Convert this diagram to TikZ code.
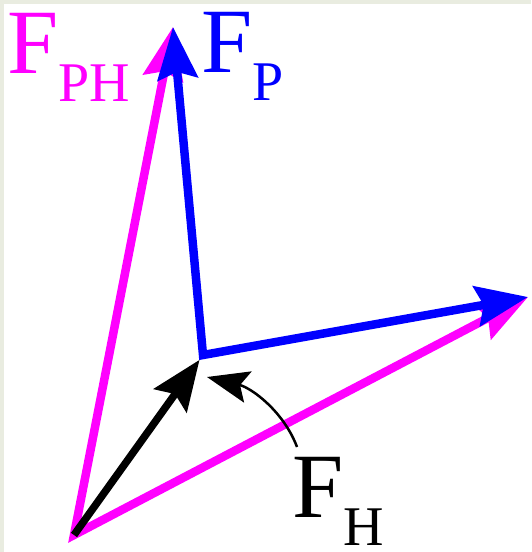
\documentclass[tikz,border=0pt]{standalone}
\usepackage{fontspec}
\setmainfont{Liberation Serif}
\usetikzlibrary{arrows.meta}
\definecolor{framebg}{RGB}{233,236,224}
\definecolor{phcol}{RGB}{255,0,255}
\definecolor{pcol}{RGB}{0,0,255}
\newcommand{\vecname}[1]{F\raisebox{-28pt}{\fontsize{56}{56}\selectfont #1}}

\begin{document}
\begin{tikzpicture}[x=1pt, y=-1pt, line join=miter,
  twotip/.style={arrows={{Stealth[length=52pt,width=40pt,inset=7pt]}-{Stealth[length=52pt,width=40pt,inset=7pt]}}},
  onetip/.style={arrows={-{Stealth[length=50pt,width=40pt,inset=8pt]}}},
  ptrtip/.style={arrows={-{Stealth[length=42pt,width=32pt,inset=8pt]}}},
  lbl/.style={font=\fontsize{92}{92}\selectfont, inner sep=0pt, anchor=base west}]
% frame
\useasboundingbox (0,0) rectangle (531,552);
\fill[framebg] (0,0) rectangle (531,552);
\fill[white] (4,4) rectangle (531,552);
% points
\coordinate (O) at (74,535);
\coordinate (A) at (203,355);
\coordinate (Ptop) at (173,27);
\coordinate (Pright) at (528,297);
\coordinate (Ahit) at (207,377);
\coordinate (ptr) at (297,447);
% resultants
\draw[phcol, line width=8.5pt, twotip] (Ptop) -- (O) -- (Pright);
% forces at the tip of F_H
\draw[pcol, line width=8.5pt, twotip] (Ptop) -- (A) -- (Pright);
\draw[black, line width=7.5pt, onetip, shorten >=6pt] (O) -- (A);
% labels
\node[lbl, phcol] (lblPH) at (7,73) {\vecname{PH}};
\node[lbl, pcol] (lblP) at (201,72) {\vecname{P}};
\node[lbl, black] (lblH) at (292,517) {\vecname{H}};
\draw[line width=2.5pt, ptrtip] (ptr) .. controls (284,412) and (252,388) .. (Ahit);
\end{tikzpicture}
\end{document}
